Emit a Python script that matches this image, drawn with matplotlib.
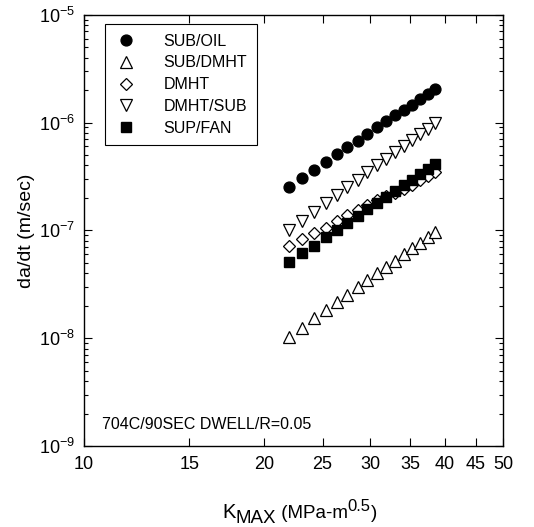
import matplotlib
matplotlib.use("Agg")
import matplotlib.pyplot as plt
from matplotlib.ticker import FixedLocator, FixedFormatter, NullLocator, LogLocator

plt.rcParams['font.family'] = ['Liberation Sans', 'DejaVu Sans']
plt.rcParams['mathtext.default'] = 'regular'

kmax = [22.0, 23.1, 24.2, 25.3, 26.4, 27.5, 28.6, 29.7, 30.8, 31.9, 33.0, 34.1, 35.2, 36.3, 37.4, 38.5]

sub_oil = [2.54e-7, 3.03e-7, 3.63e-7, 4.30e-7, 5.10e-7, 5.97e-7, 6.73e-7, 7.82e-7,
           9.0e-7, 1.03e-6, 1.17e-6, 1.32e-6, 1.46e-6, 1.65e-6, 1.84e-6, 2.06e-6]
sub_dmht = [1.02e-8, 1.25e-8, 1.53e-8, 1.82e-8, 2.16e-8, 2.53e-8, 2.96e-8, 3.46e-8,
            3.99e-8, 4.60e-8, 5.24e-8, 6.04e-8, 6.8e-8, 7.69e-8, 8.6e-8, 9.7e-8]
dmht = [7.2e-8, 8.3e-8, 9.4e-8, 1.06e-7, 1.21e-7, 1.38e-7, 1.55e-7, 1.73e-7,
        1.93e-7, 2.08e-7, 2.23e-7, 2.4e-7, 2.65e-7, 2.9e-7, 3.2e-7, 3.5e-7]
dmht_sub = [1.0e-7, 1.22e-7, 1.48e-7, 1.78e-7, 2.12e-7, 2.5e-7, 2.95e-7, 3.45e-7,
            4.0e-7, 4.6e-7, 5.3e-7, 6.05e-7, 6.9e-7, 7.8e-7, 8.8e-7, 1.0e-6]
sup_fan = [5.1e-8, 6.1e-8, 7.2e-8, 8.6e-8, 1.0e-7, 1.18e-7, 1.37e-7, 1.58e-7,
           1.81e-7, 2.05e-7, 2.33e-7, 2.63e-7, 2.93e-7, 3.3e-7, 3.7e-7, 4.1e-7]

series_labels = ['SUB/OIL', 'SUB/DMHT', 'DMHT', 'DMHT/SUB', 'SUP/FAN']
x_ticks = [10, 15, 20, 25, 30, 35, 40, 45, 50]
x_tick_labels = ['10', '15', '20', '25', '30', '35', '40', '45', '50']

W, H = 534, 527
fig = plt.figure(figsize=(W / 100, H / 100), dpi=100)
ax = fig.add_axes([0.1567, 0.1537, 0.7858, 0.8184])

ms = 7.5
ax.plot(kmax, sub_oil, 'o', ms=ms + 0.3, mfc='black', mec='black', label=series_labels[0])
ax.plot(kmax, sub_dmht, '^', ms=ms + 0.5, mfc='white', mec='black', mew=0.9, label=series_labels[1])
ax.plot(kmax, dmht, 'D', ms=ms - 1.3, mfc='white', mec='black', mew=0.9, label=series_labels[2])
ax.plot(kmax, dmht_sub, 'v', ms=ms + 0.5, mfc='white', mec='black', mew=0.9, label=series_labels[3])
ax.plot(kmax, sup_fan, 's', ms=ms - 0.5, mfc='black', mec='black', label=series_labels[4])

ax.set_xscale('log')
ax.set_yscale('log')
ax.set_xlim(10, 50)
ax.set_ylim(1e-9, 1e-5)

ax.xaxis.set_major_locator(FixedLocator(x_ticks))
ax.xaxis.set_major_formatter(FixedFormatter(x_tick_labels))
ax.xaxis.set_minor_locator(NullLocator())
ax.yaxis.set_major_locator(LogLocator(base=10, numticks=10))
ax.yaxis.set_minor_locator(LogLocator(base=10, subs=range(2, 10), numticks=20))

ax.tick_params(which='both', direction='in', top=True, right=True, labelsize=13)
ax.tick_params(which='major', length=6, width=0.8)
ax.tick_params(which='minor', length=3, width=0.8)
ax.tick_params(axis='x', pad=7)
ax.tick_params(axis='y', pad=6)
for sp in ax.spines.values():
    sp.set_linewidth(1.0)

ax.set_ylabel('da/dt (m/sec)', fontsize=14, labelpad=3)
ax.xaxis.label.set_visible(False)

ax.text(0.043, 0.049, '704C/90SEC DWELL/R=0.05', transform=ax.transAxes,
        fontsize=11.5, ha='left', va='center')

leg = ax.legend(loc='upper left', bbox_to_anchor=(0.05, 0.978), fancybox=False,
                edgecolor='black', framealpha=1, fontsize=11.5, borderpad=0.6,
                labelspacing=0.42, handletextpad=1.6, borderaxespad=0, handlelength=1.5)
leg.get_frame().set_linewidth(0.8)

# x-axis label built from pieces (large subscript / superscript as in reference)
renderer = fig.canvas.get_renderer()
pieces = [("K", 14.5, 518), ("MAX", 13.5, 523), (" (MPa-m", 13.5, 518), ("0.5", 12, 511), (")", 13.5, 518)]
x_px = 222.0
for txt, size, base_px in pieces:
    t = fig.text(x_px / W, 1 - base_px / H, txt, fontsize=size, ha='left', va='baseline')
    x_px += t.get_window_extent(renderer).width

fig.savefig('out.png', dpi=100)
